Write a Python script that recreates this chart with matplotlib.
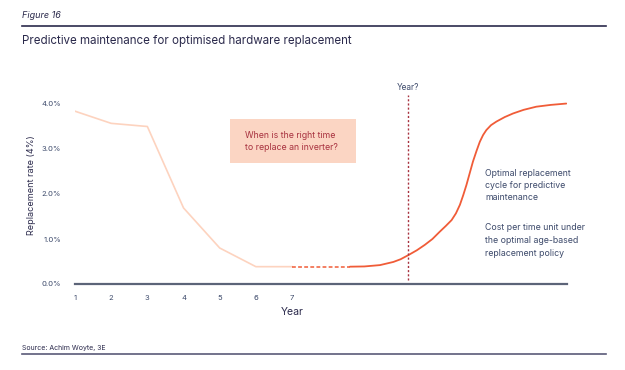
import matplotlib
matplotlib.use("Agg")
import matplotlib.pyplot as plt
from matplotlib.lines import Line2D

plt.rcParams['font.family'] = ['Inter', 'DejaVu Sans']

# values
hist_years = [1, 2, 3, 4, 5, 6, 7]
hist_rate = [3.84, 3.57, 3.50, 1.69, 0.80, 0.385, 0.385]

dash_years = [7, 8.6]
dash_rate = [0.385, 0.385]

curve_years = [8.6, 9.0, 9.43, 9.8, 10.0, 10.21, 10.45, 10.67, 10.88, 11.08, 11.25, 11.41, 11.53,
               11.64, 11.73, 11.82, 11.91, 12.0, 12.1, 12.19, 12.28, 12.37, 12.5, 12.65, 12.88,
               13.11, 13.4, 13.75, 14.15, 14.58]
curve_rate = [0.385, 0.39, 0.42, 0.49, 0.55, 0.64, 0.75, 0.87, 1.0, 1.16, 1.29, 1.42, 1.57,
              1.76, 1.97, 2.2, 2.46, 2.72, 2.96, 3.16, 3.31, 3.42, 3.53, 3.61, 3.71,
              3.79, 3.87, 3.94, 3.98, 4.01]

year_marker = 10.2
x_ticks = [1, 2, 3, 4, 5, 6, 7]
y_ticks = [0, 1, 2, 3, 4]
y_tick_labels = ['0.0%', '1.0%', '2.0%', '3.0%', '4.0%']

W, H = 625, 370
fig = plt.figure(figsize=(W / 100, H / 100), dpi=100)

navy = '#2b2a4c'
axis_grey = '#5c6478'
text_blue = '#3d4a6b'
light = '#fdd3bf'
red = '#f05c38'
dark_red = '#a8323f'

# axes placed so year 1 -> 75px, year 14.6 -> 567px, 0% -> 284px, 1% = 45px
x0, x1 = 1, 14.6
y0, y1 = 0, 4.4
left = 75 / W
width = (567 - 75) / W
bottom = (H - 284) / H
height = (y1 - y0) * 45 / H
ax = fig.add_axes([left, bottom, width, height])
ax.set_xlim(x0, x1)
ax.set_ylim(y0, y1)
for s in ['top', 'right', 'left']:
    ax.spines[s].set_visible(False)
ax.spines['bottom'].set_color(axis_grey)
ax.spines['bottom'].set_linewidth(1.6)

ax.set_xticks(x_ticks)
ax.set_yticks(y_ticks)
ax.set_yticklabels(y_tick_labels)
ax.tick_params(length=0, labelsize=5.5, colors=text_blue, pad=8)
ax.tick_params(axis='y', pad=10)
ax.set_xlabel('Year', fontsize=7.5, color=navy, labelpad=4)
ax.xaxis.label.set_x((7 - x0) / (x1 - x0))
ax.set_ylabel('Replacement rate (4%)', fontsize=6.5, color=navy, labelpad=4)

ax.plot(hist_years, hist_rate, color=light, lw=1.2, solid_joinstyle='round')
ax.plot(dash_years, dash_rate, color=red, lw=1.1, ls=(0, (2.5, 1.5)))
ax.plot(curve_years, curve_rate, color=red, lw=1.3, solid_capstyle='round', solid_joinstyle='round')

ax.plot([year_marker, year_marker], [0.1, 4.2], color=dark_red, lw=1.0, ls=(0, (1.5, 1.5)))
fig.text(408 / W, 1 - 88 / H, 'Year?', fontsize=6, color=text_blue, ha='center', va='center')

# annotation box
box = plt.Rectangle((230 / W, 1 - 163 / H), (356 - 230) / W, (163 - 119) / H,
                    transform=fig.transFigure, facecolor='#fbd5c3', edgecolor='none')
fig.patches.append(box)
fig.text(245 / W, 1 - 135 / H, 'When is the right time', fontsize=6.3, color=dark_red, va='center')
fig.text(245 / W, 1 - 148 / H, 'to replace an inverter?', fontsize=6.3, color=dark_red, va='center')

right_lines = ['Optimal replacement', 'cycle for predictive', 'maintenance', '',
               'Cost per time unit under', 'the optimal age-based', 'replacement policy']
ys = [173, 185.5, 198, None, 228, 240.5, 253]
for txt, yy in zip(right_lines, ys):
    if yy is not None:
        fig.text(485 / W, 1 - yy / H, txt, fontsize=6.3, color=text_blue, va='center')

# header and footer
fig.text(22 / W, 1 - 15 / H, 'Figure 16', fontsize=6.5, style='italic', color=navy, va='center')
fig.lines.append(Line2D([22 / W, 606 / W], [1 - 26 / H, 1 - 26 / H], color=navy, lw=1.2,
                        transform=fig.transFigure))
fig.text(22 / W, 1 - 41 / H, 'Predictive maintenance for optimised hardware replacement',
         fontsize=8.3, color=navy, va='center')
fig.text(22 / W, 1 - 348 / H, 'Source: Achim Woyte, 3E', fontsize=5, color=navy, va='center')
fig.lines.append(Line2D([22 / W, 606 / W], [1 - 354 / H, 1 - 354 / H], color='#5a5a78', lw=1.2,
                        transform=fig.transFigure))

fig.savefig('out.png', dpi=100)
